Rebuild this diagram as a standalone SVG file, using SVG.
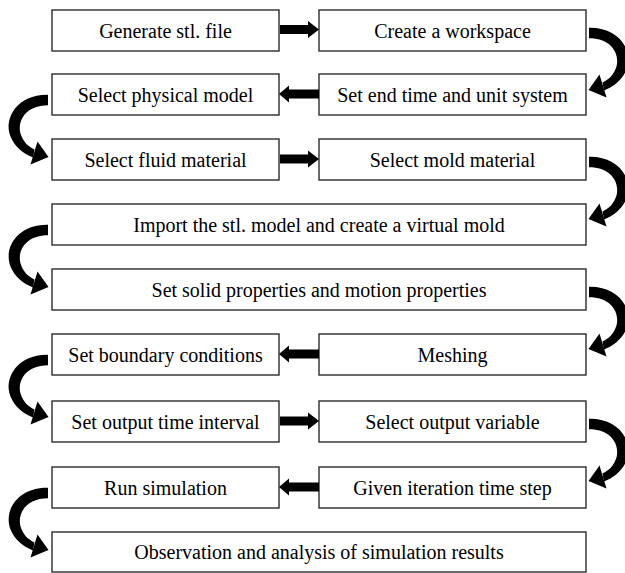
<svg xmlns="http://www.w3.org/2000/svg" xmlns:xlink="http://www.w3.org/1999/xlink" width="625" height="573" viewBox="0 0 625 573">
<style>
.box{fill:#fff;stroke:#2b2b2b;stroke-width:1.4}
text{font-family:'Liberation Serif','DejaVu Serif',serif;font-size:20px;fill:#000;text-anchor:middle}
.arr{fill:#000}
</style>
<defs>
<g id="curveR">
<path class="arr" d="M589,-2.8 C618,-3.5 634,19 626.5,39 C622.5,49 614,56 604,60 L602.5,52 C609,49 614,44 616.5,36 C620,22 610,7.8 589,7.8 Z"/>
<polygon class="arr" points="588.5,59.5 606.5,67 599.5,44"/>
</g>
<polygon id="hR" class="arr" points="280,-4.5 308,-4.5 308,-8.5 319,0 308,8.5 308,4.5 280,4.5"/>
<polygon id="hL" class="arr" points="319,-4.5 289,-4.5 289,-8.5 279,0 289,8.5 289,4.5 319,4.5"/>
</defs>
<rect width="625" height="573" fill="#fff"/>
<g id="n1"><rect class="box" x="52" y="10" width="227" height="41"/><text font-family="Liberation Serif, serif" x="165.5" y="38">Generate stl. file</text></g>
<g id="n2"><rect class="box" x="319" y="10" width="267" height="41"/><text x="452.5" y="38">Create a workspace</text></g>
<g id="n3"><rect class="box" x="319" y="74" width="267" height="41"/><text x="452.5" y="101.5">Set end time and unit system</text></g>
<g id="n4"><rect class="box" x="52" y="74" width="227" height="41"/><text x="165.5" y="101.5">Select physical model</text></g>
<g id="n5"><rect class="box" x="52" y="139" width="227" height="41"/><text x="165.5" y="166.5">Select fluid material</text></g>
<g id="n6"><rect class="box" x="319" y="139" width="267" height="41"/><text x="452.5" y="166.5">Select mold material</text></g>
<g id="n7"><rect class="box" x="52" y="204" width="534" height="41"/><text x="319" y="231.5">Import the stl. model and create a virtual mold</text></g>
<g id="n8"><rect class="box" x="52" y="269" width="534" height="41"/><text x="319" y="296.5">Set solid properties and motion properties</text></g>
<g id="n9"><rect class="box" x="319" y="334" width="267" height="41"/><text x="452.5" y="361.5">Meshing</text></g>
<g id="n10"><rect class="box" x="52" y="334" width="227" height="41"/><text x="165.5" y="361.5">Set boundary conditions</text></g>
<g id="n11"><rect class="box" x="52" y="401" width="227" height="41"/><text x="165.5" y="428.5">Set output time interval</text></g>
<g id="n12"><rect class="box" x="319" y="401" width="267" height="41"/><text x="452.5" y="428.5">Select output variable</text></g>
<g id="n13"><rect class="box" x="319" y="467" width="267" height="41"/><text x="452.5" y="494.5">Given iteration time step</text></g>
<g id="n14"><rect class="box" x="52" y="467" width="227" height="41"/><text x="165.5" y="494.5">Run simulation</text></g>
<g id="n15"><rect class="box" x="52" y="532" width="534" height="40"/><text x="319" y="559">Observation and analysis of simulation results</text></g>
<g id="connectors">
<use xlink:href="#hR" transform="translate(0,29.5)"/>
<use xlink:href="#curveR" transform="translate(0,30.5)"/>
<use xlink:href="#hL" transform="translate(0,94)"/>
<use xlink:href="#curveR" transform="translate(637,97.5) scale(-1,1)"/>
<use xlink:href="#hR" transform="translate(0,159)"/>
<use xlink:href="#curveR" transform="translate(0,159.5)"/>
<use xlink:href="#curveR" transform="translate(637,227.5) scale(-1,1)"/>
<use xlink:href="#curveR" transform="translate(0,289.5)"/>
<use xlink:href="#hL" transform="translate(0,354)"/>
<use xlink:href="#curveR" transform="translate(637,357.5) scale(-1,1)"/>
<use xlink:href="#hR" transform="translate(0,421)"/>
<use xlink:href="#curveR" transform="translate(0,421.5)"/>
<use xlink:href="#hL" transform="translate(0,487)"/>
<use xlink:href="#curveR" transform="translate(637,490.5) scale(-1,1)"/>
</g>
</svg>
